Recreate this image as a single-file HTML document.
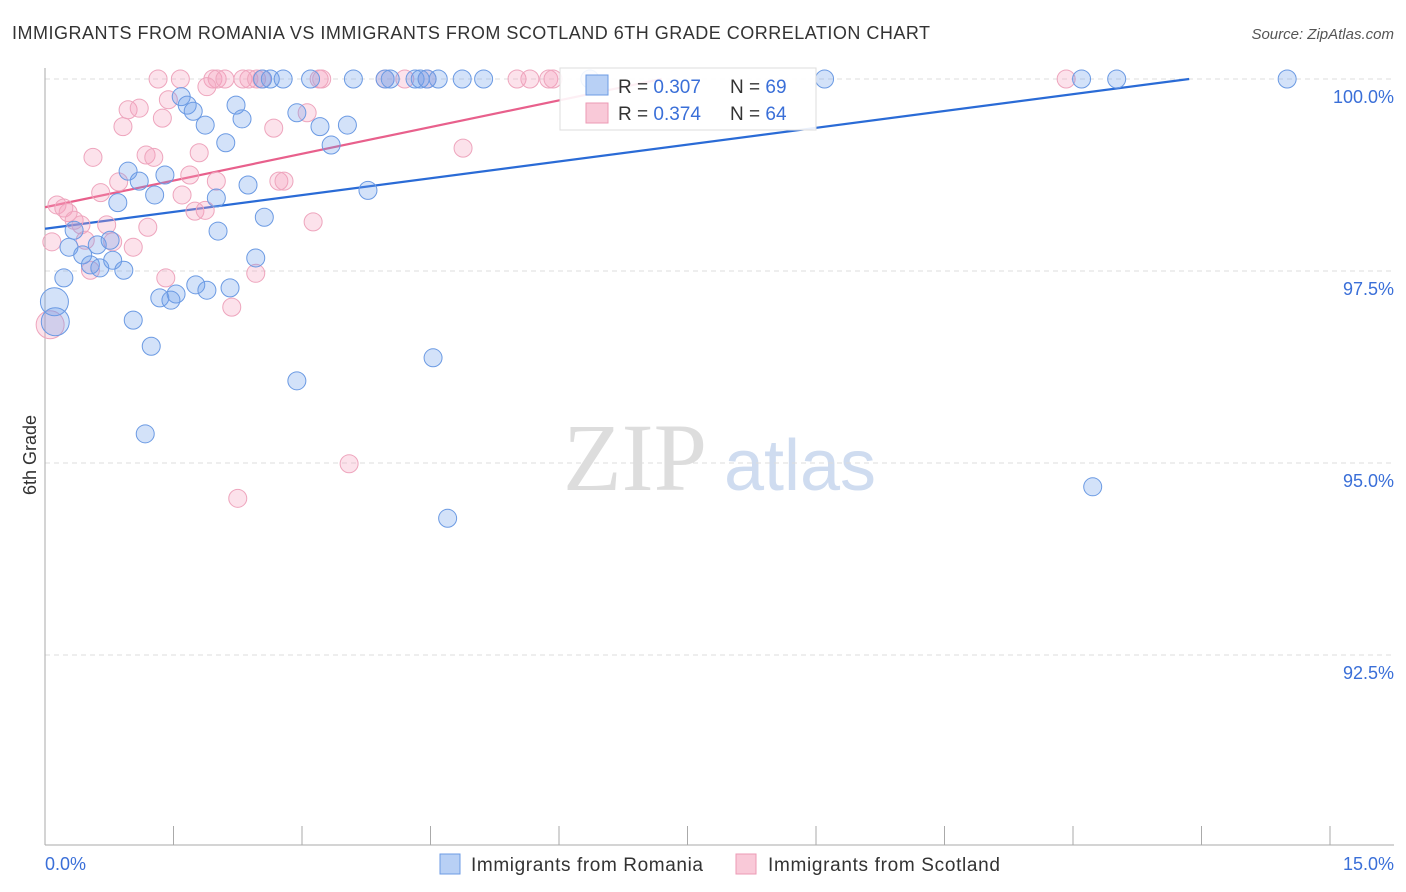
<!DOCTYPE html>
<html><head><meta charset="utf-8"><style>
body{margin:0;background:#fff;font-family:"Liberation Sans",sans-serif;}
svg{display:block}
</style></head><body>
<svg id="chart" width="1406" height="892" xmlns="http://www.w3.org/2000/svg">
<text x="12" y="39" font-size="18" fill="#333" textLength="918" lengthAdjust="spacing">IMMIGRANTS FROM ROMANIA VS IMMIGRANTS FROM SCOTLAND 6TH GRADE CORRELATION CHART</text>
<text x="1394" y="39" font-size="15" fill="#555" text-anchor="end" font-style="italic">Source: ZipAtlas.com</text>
<text x="36" y="455" font-size="18" fill="#333" text-anchor="middle" transform="rotate(-90 36 455)">6th Grade</text>
<g><text x="635" y="490" font-size="96" fill="#ddd" text-anchor="middle" font-family="Liberation Serif,serif">ZIP</text><text x="800" y="490" font-size="72" fill="#cfdcf0" text-anchor="middle">atlas</text></g>
<g id="grid"></g><g id="axes"></g><g id="lines"></g><g id="pts"></g>
<g>
<rect x="560" y="68" width="256" height="62" fill="#fff" fill-opacity="0.9" stroke="#ddd"/>
<rect x="586" y="75" width="22" height="20" fill="#b8d0f5" stroke="#6d9be4"/>
<rect x="586" y="103" width="22" height="20" fill="#f9c9d8" stroke="#ec9ab5"/>
<text x="618" y="93" font-size="19" fill="#333">R = <tspan fill="#3a6fd8">0.307</tspan><tspan x="730">N = </tspan><tspan fill="#3a6fd8">69</tspan></text>
<text x="618" y="120" font-size="19" fill="#333">R = <tspan fill="#3a6fd8">0.374</tspan><tspan x="730">N = </tspan><tspan fill="#3a6fd8">64</tspan></text>
</g>
<g>
<rect x="440" y="854" width="20" height="20" fill="#b8d0f5" stroke="#6d9be4"/>
<text x="471" y="871" font-size="19" fill="#333" textLength="232" lengthAdjust="spacing">Immigrants from Romania</text>
<rect x="736" y="854" width="20" height="20" fill="#f9c9d8" stroke="#ec9ab5"/>
<text x="768" y="871" font-size="19" fill="#333" textLength="232" lengthAdjust="spacing">Immigrants from Scotland</text>
</g>
</svg>
<script>
const xTicks=[0,1.5,3,4.5,6,7.5,9,10.5,12,13.5,15];
const yTicks=[100,97.5,95,92.5];
const yTickLabels=["100.0%","97.5%","95.0%","92.5%"];
const blueX=[2.54,2.63,2.78,3.10,3.60,3.97,4.03,4.32,4.38,4.46,4.59,4.87,5.12,9.10,12.10,12.51,14.50,6.36,1.59,1.66,1.73,2.23,2.30,1.87,2.94,3.21,3.53,3.34,2.11,0.97,1.10,1.40,1.28,0.85,2.37,2.00,3.77,2.56,2.02,0.34,0.28,0.61,0.76,0.44,0.53,0.64,0.79,0.92,2.46,0.22,1.76,1.89,2.16,1.53,1.34,1.47,0.11,0.12,1.03,1.24,4.53,2.94,1.17,12.23,4.70];
const blueY=[100,100,100,100,100,100,100,100,100,100,100,100,100,100,100,100,100,100,99.77,99.66,99.58,99.66,99.48,99.40,99.56,99.38,99.40,99.14,99.17,98.80,98.67,98.75,98.49,98.39,98.62,98.45,98.55,98.20,98.02,98.03,97.81,97.84,97.90,97.71,97.58,97.54,97.64,97.51,97.67,97.41,97.32,97.25,97.28,97.20,97.15,97.12,97.10,96.84,96.86,96.52,96.37,96.07,95.38,94.69,94.28];
const pinkX=[1.32,1.58,1.96,2.01,2.10,2.31,2.38,2.47,2.53,3.20,3.23,3.97,4.20,4.46,5.51,5.66,5.88,5.93,11.92,1.89,1.44,0.97,1.10,1.37,0.91,2.67,3.06,0.56,1.18,1.27,1.80,4.88,1.69,2.00,0.86,0.65,1.60,2.73,2.79,0.14,0.22,0.27,0.34,0.42,0.72,1.20,1.75,1.87,3.13,0.08,0.47,0.79,1.03,0.53,1.41,2.46,2.18,3.55,2.25,0.06];
const pinkY=[100,100,100,100,100,100,100,100,100,100,100,100,100,100,100,100,100,100,100,99.90,99.73,99.60,99.62,99.49,99.38,99.36,99.56,98.98,99.01,98.98,99.04,99.10,98.75,98.67,98.66,98.52,98.49,98.67,98.67,98.36,98.32,98.26,98.16,98.10,98.10,98.07,98.28,98.29,98.14,97.88,97.90,97.88,97.81,97.51,97.41,97.47,97.03,94.99,94.54,96.80];
const blueBig=[0.11,0.12];
const trendIntercept=[98.05,98.33];
const trendSlope=[0.146,0.232];
const NS="http://www.w3.org/2000/svg";
const X=v=>45+v/15*1285, Y=v=>79+(100-v)/2.5*192;
function mk(tag,attrs,parent){const e=document.createElementNS(NS,tag);for(const k in attrs)e.setAttribute(k,attrs[k]);parent.appendChild(e);return e;}
const grid=document.getElementById('grid'),axes=document.getElementById('axes'),lines=document.getElementById('lines'),pts=document.getElementById('pts');
yTicks.forEach((t,i)=>{
 const g=mk('line',{x1:45,x2:1394,y1:Y(t),y2:Y(t),stroke:'#ddd','stroke-dasharray':'5,4'},grid);
 
 
 const l=mk('text',{x:1394,y:Y(t)+24,'font-size':18,fill:'#3a6fd8','text-anchor':'end'},axes);
 l.textContent=yTickLabels[i];
 
 
});
const ax=mk('line',{x1:45,x2:45,y1:68,y2:845,stroke:'#aaa'},axes);


const bx=mk('line',{x1:45,x2:1394,y1:845,y2:845,stroke:'#aaa'},axes);


xTicks.forEach(t=>{
 const k=mk('line',{x1:X(t),x2:X(t),y1:826,y2:845,stroke:'#aaa'},axes);
 
 
});
const xl0=mk('text',{x:45,y:870,'font-size':18,fill:'#3a6fd8'},axes);xl0.textContent=xTicks[0].toFixed(1)+'%';


const xl1=mk('text',{x:1394,y:870,'font-size':18,fill:'#3a6fd8','text-anchor':'end'},axes);xl1.textContent=xTicks[xTicks.length-1].toFixed(1)+'%';


function dots(xs,ys,fill,stroke,name){xs.forEach((x,i)=>{
 const big=(name==='romania-point'&&blueBig.includes(x))||(name==='scotland-point'&&i===xs.length-1);
 const c=mk('circle',{cx:X(x),cy:Y(ys[i]),r:big?14:9,fill:fill,stroke:stroke,'stroke-width':1},pts);
 
 
});}
dots(pinkX,pinkY,'rgba(245,160,190,0.3)','#eea5bd','scotland-point');
dots(blueX,blueY,'rgba(110,160,235,0.3)','#6b9ae3','romania-point');
['#2a6bd6','#e8608c'].forEach((col,i)=>{
 const a=trendIntercept[i],b=trendSlope[i];
 const xe=Math.min(15,(100-a)/b);
 const l=mk('line',{x1:X(0),y1:Y(a),x2:X(xe),y2:Y(a+b*xe),stroke:col,'stroke-width':2.2},lines);
 
 
});
</script>
</body></html>
